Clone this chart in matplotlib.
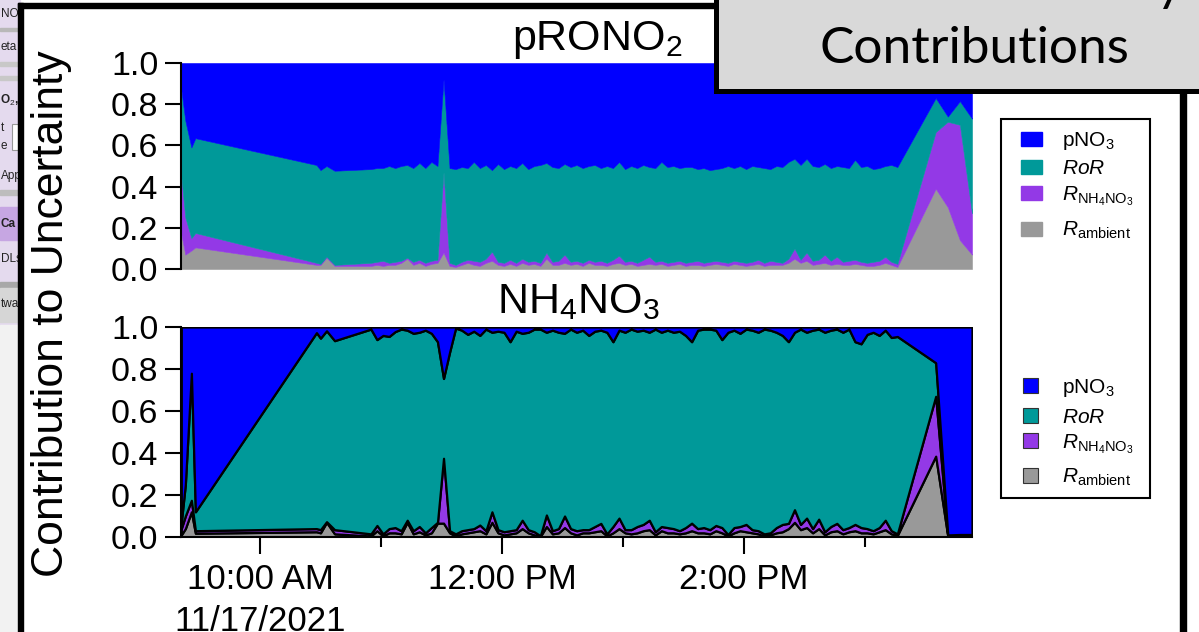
import matplotlib
matplotlib.use("Agg")
import matplotlib.pyplot as plt
import numpy as np
import pandas as pd
from matplotlib.patches import Rectangle

plt.rcParams["font.family"] = ["Liberation Sans", "DejaVu Sans"]
plt.rcParams["mathtext.fontset"] = "custom"
plt.rcParams["mathtext.rm"] = "Liberation Sans"
plt.rcParams["mathtext.it"] = "Liberation Sans:italic"
plt.rcParams["mathtext.bf"] = "Liberation Sans:bold"

W, H = 1199, 632
DAY = "2021-11-17"

# measurement times (local)
TIMES = [
    "09:21", "09:23", "09:26", "09:28", "10:28", "10:30", "10:33", "10:37",
    "10:55", "10:58", "11:01", "11:04", "11:07", "11:10", "11:13", "11:16", "11:19", "11:22",
    "11:25", "11:28", "11:31", "11:34", "11:37", "11:40", "11:43", "11:46", "11:49", "11:52",
    "11:55", "11:58", "12:01", "12:04", "12:07", "12:10", "12:13", "12:16", "12:19", "12:22",
    "12:25", "12:28", "12:31", "12:34", "12:37", "12:40", "12:43", "12:46", "12:49", "12:52",
    "12:55", "12:58", "13:01", "13:04", "13:07", "13:10", "13:13", "13:16", "13:19", "13:22",
    "13:25", "13:28", "13:31", "13:34", "13:37", "13:40", "13:43", "13:46", "13:49", "13:52",
    "13:55", "13:58", "14:01", "14:04", "14:07", "14:10", "14:13", "14:16", "14:19", "14:22",
    "14:25", "14:28", "14:31", "14:34", "14:37", "14:40", "14:43", "14:46", "14:49", "14:52",
    "14:55", "14:58", "15:01", "15:04", "15:07", "15:10", "15:13", "15:16",
    "15:35", "15:41", "15:47", "15:53",
]

# pRONO2 panel: cumulative fraction of uncertainty (ambient, +NH4NO3, +RoR); pNO3 is the rest
TOP_AMBIENT = [
    .17, .07, .09, .105, .02, .02, .055, .015,
    .015, .02, .015, .02, .02, .03, .05, .02, .03, .015,
    .025, .03, .08, .015, .01, .02, .03, .02, .015, .03,
    .04, .02, .015, .025, .015, .03, .02, .025, .015, .05,
    .02, .02, .03, .02, .025, .015, .03, .02, .02, .015,
    .025, .03, .02, .025, .015, .02, .025, .02, .025, .015,
    .02, .025, .015, .02, .02, .015, .02, .025, .02, .015,
    .025, .02, .015, .02, .025, .015, .02, .02, .02, .03,
    .05, .03, .04, .02, .025, .03, .02, .025, .02, .02,
    .025, .02, .015, .015, .02, .03, .02, .01,
    .39, .30, .14, .07,
]
TOP_THRU_NH4NO3 = [
    .45, .25, .15, .175, .03, .025, .06, .02,
    .03, .035, .04, .03, .035, .04, .055, .035, .045, .03,
    .04, .045, .47, .03, .02, .035, .045, .04, .035, .05,
    .085, .035, .03, .045, .03, .05, .035, .04, .03, .08,
    .035, .04, .07, .035, .04, .03, .045, .035, .04, .03,
    .045, .065, .035, .04, .03, .045, .06, .035, .04, .03,
    .035, .04, .03, .035, .04, .03, .035, .04, .035, .03,
    .04, .035, .03, .035, .045, .03, .04, .035, .03, .05,
    .10, .045, .08, .04, .045, .07, .04, .06, .035, .04,
    .045, .035, .03, .035, .04, .06, .035, .025,
    .665, .715, .70, .27,
]
TOP_THRU_ROR = [
    .87, .72, .59, .635, .505, .48, .50, .477,
    .485, .49, .49, .50, .49, .50, .505, .49, .515, .49,
    .52, .50, .92, .49, .485, .495, .49, .52, .49, .505,
    .48, .51, .485, .50, .49, .515, .485, .50, .505, .515,
    .495, .49, .51, .495, .505, .49, .50, .505, .49, .50,
    .49, .52, .485, .50, .49, .505, .495, .49, .52, .495,
    .50, .49, .495, .495, .485, .49, .48, .485, .49, .50,
    .49, .50, .485, .50, .495, .49, .485, .50, .495, .52,
    .535, .505, .535, .50, .495, .51, .49, .50, .495, .49,
    .53, .495, .50, .485, .49, .50, .505, .495,
    .83, .74, .815, .73,
]

# NH4NO3 panel
BOT_AMBIENT = [
    .01, .04, .12, .018, .025, .02, .07, .015,
    .005, .03, .005, .02, .02, .015, .07, .015, .025, .01,
    .02, .066, .066, .02, .005, .015, .02, .025, .03, .015,
    .07, .02, .01, .015, .02, .04, .02, .01, .003, .05,
    .015, .02, .045, .02, .01, .02, .02, .025, .03, .005,
    .02, .04, .02, .015, .02, .03, .035, .01, .03, .02,
    .02, .015, .02, .03, .02, .02, .015, .03, .02, .005,
    .02, .03, .025, .02, .015, .005, .01, .02, .025, .04,
    .07, .035, .045, .02, .04, .01, .025, .03, .015, .025,
    .03, .02, .02, .015, .025, .035, .015, .008,
    .385, .003, .002, .002,
]
BOT_THRU_NH4NO3 = [
    .04, .10, .175, .03, .04, .035, .073, .035,
    .015, .055, .015, .04, .045, .03, .08, .03, .05, .02,
    .045, .07, .375, .03, .015, .03, .035, .04, .057, .03,
    .12, .035, .025, .03, .035, .08, .035, .025, .006, .105,
    .03, .04, .10, .04, .03, .035, .035, .05, .065, .015,
    .05, .09, .035, .035, .05, .06, .08, .025, .05, .045,
    .04, .03, .045, .066, .04, .045, .035, .055, .045, .012,
    .045, .05, .06, .035, .03, .015, .02, .045, .06, .065,
    .13, .06, .09, .04, .085, .025, .05, .065, .035, .045,
    .06, .045, .04, .03, .045, .08, .03, .015,
    .67, .005, .005, .005,
]
BOT_THRU_ROR = [
    .07, .25, .78, .12, .973, .947, .982, .935,
    .99, .94, .96, .955, .978, .99, .985, .97, .975, .985,
    .97, .93, .755, .88, .995, .985, .965, .98, .96, .99,
    .975, .98, .975, .93, .98, .97, .975, .99, .99, .975,
    .985, .975, .97, .99, .975, .985, .96, .98, .985, .975,
    .93, .985, .975, .99, .98, .985, .975, .99, .975, .985,
    .975, .98, .96, .93, .985, .99, .99, .985, .94, .975,
    .985, .97, .99, .985, .975, .99, .985, .975, .96, .93,
    .975, .99, .975, .985, .99, .975, .985, .99, .975, .99,
    .93, .92, .965, .975, .96, .985, .95, .955,
    .83, .01, .012, .012,
]

LABELS = ["pNO$_3$", "$RoR$", "$R_{\\mathrm{NH_4NO_3}}$", "$R_{\\mathrm{ambient}}$"]
COLORS = ["#0000ff", "#009999", "#9339e6", "#999999"]  # top -> bottom in the stack

XTICK_MAJOR = ["10:00", "12:00", "14:00"]
XTICK_MINOR = ["11:00", "13:00", "15:00"]
XTICK_LABELS = ["10:00 AM\n11/17/2021", "12:00 PM", "2:00 PM"]
YTICKS = [0.0, 0.2, 0.4, 0.6, 0.8, 1.0]


def to_time(values):
    return pd.to_datetime([f"{DAY} {v}" for v in values])


def layers(ambient, thru_nh4, thru_ror):
    n = len(ambient)
    cum = np.vstack([np.zeros(n), ambient, thru_nh4, thru_ror, np.ones(n)])
    return np.clip(np.diff(cum, axis=0), 0, None)


def style_axis(ax, t):
    ax.set_xlim(t[0], t[-1])
    ax.set_ylim(0, 1)
    ax.set_yticks(YTICKS)
    ax.set_yticklabels([f"{v:.1f}" for v in YTICKS])
    ax.tick_params(axis="y", direction="out", length=11.5, width=1.5, labelsize=24.5, pad=5)
    for side in ["top", "right"]:
        ax.spines[side].set_visible(False)
    ax.spines["left"].set_linewidth(1.5)


t = to_time(TIMES)
stack_colors = COLORS[::-1]

fig = plt.figure(figsize=(W / 100, H / 100), dpi=100)

# background of the slide (left toolbar strip)
bg = fig.add_axes([0, 0, 1, 1], zorder=-1)
bg.set_xlim(0, W)
bg.set_ylim(H, 0)
bg.axis("off")
bg.add_patch(Rectangle((0, 0), 20, 325, color="#e4daee"))
bg.add_patch(Rectangle((0, 325), 20, H, color="#f2f2f2"))
for y0, h, c in [(28, 3, "#b8b8b8"), (62, 4, "#c8c8c8"), (76, 4, "#c8c8c8"),
                 (190, 5, "#bdbdbd"), (282, 6, "#a8a8a8"), (288, 34, "#d6d6d6")]:
    bg.add_patch(Rectangle((0, y0), 20, h, color=c))
bg.add_patch(Rectangle((0, 207), 20, 33, color="#c6a6e2"))
bg.add_patch(Rectangle((12, 124), 10, 26, facecolor="white", edgecolor="#999999", lw=0.8))
for txt, y, wt in [("NO", 14, "normal"), ("eta", 47, "normal"), ("O$_2$,", 100, "bold"),
                   ("t", 128, "normal"), ("e", 146, "normal"), ("App", 176, "normal"),
                   ("Ca", 224, "bold"), ("DLs", 259, "normal"), ("twa", 304, "normal")]:
    bg.text(0.5, y, txt, fontsize=8.5, va="center", ha="left", color="#222222", fontweight=wt)

# main panels
ax1 = fig.add_axes([181.3 / W, 1 - 269 / H, (972 - 181.3) / W, 206 / H])
ax1.stackplot(t, layers(TOP_AMBIENT, TOP_THRU_NH4NO3, TOP_THRU_ROR),
              colors=stack_colors, edgecolor="face", linewidth=0.4)
style_axis(ax1, t)
ax1.spines["bottom"].set_visible(False)
ax1.set_xticks([])

ax2 = fig.add_axes([181.3 / W, 1 - 537 / H, (972 - 181.3) / W, 210 / H])
ax2.stackplot(t, layers(BOT_AMBIENT, BOT_THRU_NH4NO3, BOT_THRU_ROR),
              colors=stack_colors, edgecolor="black", linewidth=1.6)
style_axis(ax2, t)
ax2.spines["bottom"].set_linewidth(1.5)
ax2.set_xticks(to_time(XTICK_MAJOR))
ax2.set_xticklabels(XTICK_LABELS)
ax2.set_xticks(to_time(XTICK_MINOR), minor=True)
ax2.tick_params(axis="x", which="major", direction="out", length=12, width=1.5, labelsize=25, pad=7)
ax2.tick_params(axis="x", which="minor", direction="out", length=7, width=1.5)
for lbl in ax2.get_xticklabels():
    lbl.set_linespacing(1.35)

# foreground: frame, titles, legends
fg = fig.add_axes([0, 0, 1, 1], zorder=5)
fg.set_xlim(0, W)
fg.set_ylim(H, 0)
fg.axis("off")
fg.add_patch(Rectangle((18, 3), 5, H, color="black"))
fg.add_patch(Rectangle((18, 3), 700, 5, color="black"))
fg.add_patch(Rectangle((715.5, -20), 520, 111, facecolor="#d9d9d9", edgecolor="black", lw=3.6))
fg.add_patch(Rectangle((1180, 91), 6, H, color="black"))
fg.text(974.5, 63, "Contributions", ha="center", va="baseline", fontsize=37, family="Lato")
fg.text(1184, 0, "Uncertainty", ha="right", va="baseline", fontsize=37, family="Lato")

fg.text(512, 50, "pRONO$_2$", ha="left", va="baseline", fontsize=31)
fg.text(497, 313, "NH$_4$NO$_3$", ha="left", va="baseline", fontsize=31)
fg.text(52, 314, "Contribution to Uncertainty", rotation=90, ha="center", va="center", fontsize=32)

fg.add_patch(Rectangle((1001, 119), 149, 379, facecolor="white", edgecolor="black", lw=1.5))
for label, color, base in zip(LABELS, COLORS, [145.7, 174.3, 200, 235.7]):
    fg.add_patch(Rectangle((1021, base - 14), 21, 14, color=color))
    fg.text(1062, base, label, ha="left", va="baseline", fontsize=15)
for label, color, base in zip(LABELS, COLORS, [393.3, 422.7, 448, 483]):
    fg.add_patch(Rectangle((1023, base - 15), 15, 15, facecolor=color, edgecolor="#333333", lw=0.8))
    fg.text(1062, base, label, ha="left", va="baseline", fontsize=15)

fig.savefig("out.png", dpi=100)
